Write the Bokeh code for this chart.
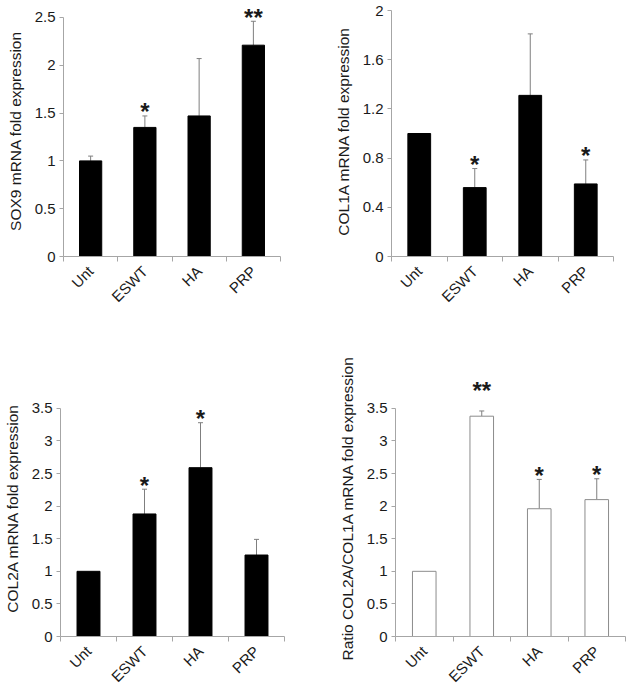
import math
from bokeh.plotting import figure
from bokeh.layouts import column, row
from bokeh.models import ColumnDataSource, FixedTicker, Whisker, TeeHead, Range1d
from bokeh.core.properties import value
from bokeh.embed import file_html
from bokeh.resources import INLINE

# ---------------- data ----------------
categories = ["Unt", "ESWT", "HA", "PRP"]

sox9_mean = [1.0, 1.35, 1.47, 2.21]
sox9_err = [0.05, 0.12, 0.60, 0.25]
sox9_sig = ["", "*", "", "**"]
sox9_ticks = [0, 0.5, 1, 1.5, 2, 2.5]

col1a_mean = [1.0, 0.56, 1.31, 0.59]
col1a_err = [0.0, 0.155, 0.50, 0.195]
col1a_sig = ["", "*", "", "*"]
col1a_ticks = [0, 0.4, 0.8, 1.2, 1.6, 2]

col2a_mean = [1.0, 1.88, 2.59, 1.25]
col2a_err = [0.0, 0.38, 0.69, 0.24]
col2a_sig = ["", "*", "*", ""]
col2a_ticks = [0, 0.5, 1, 1.5, 2, 2.5, 3, 3.5]

ratio_mean = [1.0, 3.38, 1.96, 2.10]
ratio_err = [0.0, 0.08, 0.45, 0.32]
ratio_sig = ["", "**", "*", "*"]
ratio_ticks = [0, 0.5, 1, 1.5, 2, 2.5, 3, 3.5]

FONT = "Liberation Sans"
AXIS_GRAY = "#a6a6a6"
ERR_GRAY = "#7f7f7f"
TEXT = "#1a1a1a"


def make_panel(mean, err, sig, ticks, ylabel, y_end, width, height,
               bl, br, bt, bb, fill="black", outline="black", star_lift=None):
    n = len(categories)
    xs = [i + 0.5 for i in range(n)]
    upper = [m + e for m, e in zip(mean, err)]
    lift = star_lift or {}
    yoff = [-4 - lift.get(c, 0) for c in categories]
    src = ColumnDataSource(dict(x=xs, top=mean, upper=upper, sig=sig, yoff=yoff))

    p = figure(width=width, height=height, output_backend="svg", toolbar_location=None,
               x_range=Range1d(0, n), y_range=Range1d(0, y_end),
               min_border_left=bl, min_border_right=br, min_border_top=bt, min_border_bottom=bb)
    p.outline_line_color = None
    p.grid.visible = False
    p.background_fill_color = "white"
    p.border_fill_color = "white"

    p.vbar(x="x", top="top", bottom=0, width=0.41, source=src,
           fill_color=fill, line_color=outline, line_width=1)

    esrc = ColumnDataSource(dict(
        x=[x for x, e in zip(xs, err) if e > 0],
        top=[m for m, e in zip(mean, err) if e > 0],
        upper=[u for u, e in zip(upper, err) if e > 0]))
    p.add_layout(Whisker(source=esrc, base="x", upper="upper", lower="top",
                         line_color=ERR_GRAY, line_width=1,
                         upper_head=TeeHead(size=5, line_color=ERR_GRAY, line_width=1),
                         lower_head=None))

    p.text(x="x", y="upper", text="sig", source=src, text_align="center",
           text_baseline="middle", text_font=value(FONT), text_font_size="24px",
           text_font_style="bold", text_color=TEXT, y_offset="yoff")

    # x axis
    xa = p.xaxis[0]
    xa.ticker = FixedTicker(ticks=xs, minor_ticks=list(range(n + 1)))
    xa.major_label_overrides = {x: c for x, c in zip(xs, categories)}
    xa.major_label_orientation = math.pi / 4
    xa.major_tick_out = 0
    xa.major_tick_in = 0
    xa.minor_tick_out = 5
    xa.minor_tick_in = 0
    xa.minor_tick_line_color = AXIS_GRAY
    xa.axis_line_color = AXIS_GRAY
    xa.major_label_text_font = FONT
    xa.major_label_text_font_size = "15px"
    xa.major_label_text_color = TEXT
    xa.major_label_standoff = 7

    # y axis
    ya = p.yaxis[0]
    ya.ticker = FixedTicker(ticks=ticks, minor_ticks=[])
    ya.major_label_overrides = {t: f"{t:g}" for t in ticks}
    ya.bounds = (0, ticks[-1])
    ya.major_tick_out = 4
    ya.major_tick_in = 0
    ya.major_tick_line_color = AXIS_GRAY
    ya.axis_line_color = AXIS_GRAY
    ya.major_label_text_font = FONT
    ya.major_label_text_font_size = "15px"
    ya.major_label_text_color = TEXT
    ya.major_label_standoff = 4
    ya.axis_label = ylabel
    ya.axis_label_text_font = FONT
    ya.axis_label_text_font_size = "15.5px"
    ya.axis_label_text_font_style = "normal"
    ya.axis_label_text_color = TEXT
    ya.axis_label_standoff = 8
    return p


p1 = make_panel(sox9_mean, sox9_err, sox9_sig, sox9_ticks, "SOX9 mRNA fold expression",
                2.625, 314, 330, 63, 34, 5, 73)
p2 = make_panel(col1a_mean, col1a_err, col1a_sig, col1a_ticks, "COL1A mRNA fold expression",
                2.0407, 314, 330, 77, 15, 5, 74)
p3 = make_panel(col2a_mean, col2a_err, col2a_sig, col2a_ticks, "COL2A mRNA fold expression",
                3.943, 314, 364, 59, 30, 49, 48)
p4 = make_panel(ratio_mean, ratio_err, ratio_sig, ratio_ticks,
                "Ratio COL2A/COL1A mRNA fold expression",
                3.943, 314, 364, 81, 3, 49, 48, fill="white", outline="#8c8c8c",
                star_lift={"ESWT": 16})

layout = column(row(p1, p2), row(p3, p4))
open("out.html", "w").write(file_html(layout, INLINE))
